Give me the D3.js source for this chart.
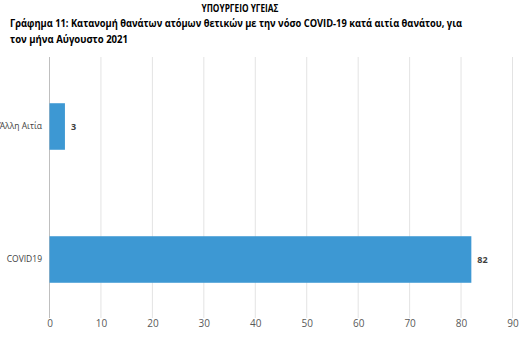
<!DOCTYPE html>
<html>
<head>
<meta charset="utf-8">
<script src="https://cdn.jsdelivr.net/npm/d3@7"></script>
<style>
  body { margin: 0; background: #fff; }
  svg { display: block; font-family: "Open Sans", "Noto Sans", sans-serif; }
</style>
</head>
<body>
<div id="app"></div>
<script>
const categories = ["Άλλη Αιτία", "COVID19"];
const values = [3, 82];
const ticks = [0, 10, 20, 30, 40, 50, 60, 70, 80, 90];

const width = 532;
const height = 356;

const svg = d3
  .create("svg")
  .attr("width", width)
  .attr("height", height)
  .attr("viewBox", [0, 0, width, height]);

// titles
svg
  .append("text")
  .attr("x", 240)
  .attr("y", 12)
  .attr("text-anchor", "middle")
  .attr("font-size", 10)
  .attr("font-weight", "bold")
  .attr("fill", "#000")
  .attr("textLength", 77)
  .attr("lengthAdjust", "spacingAndGlyphs")
  .text("ΥΠΟΥΡΓΕΙΟ ΥΓΕΙΑΣ");

svg
  .append("text")
  .attr("x", 10)
  .attr("y", 27)
  .attr("font-size", 11)
  .attr("font-weight", "bold")
  .attr("fill", "#000")
  .attr("textLength", 452)
  .attr("lengthAdjust", "spacingAndGlyphs")
  .text("Γράφημα 11: Κατανομή θανάτων ατόμων θετικών με την νόσο COVID-19 κατά αιτία θανάτου, για");

svg
  .append("text")
  .attr("x", 10)
  .attr("y", 43)
  .attr("font-size", 11)
  .attr("font-weight", "bold")
  .attr("fill", "#000")
  .attr("textLength", 118)
  .attr("lengthAdjust", "spacingAndGlyphs")
  .text("τον μήνα Αύγουστο 2021");

const x = d3.scaleLinear().domain([0, 90]).range([49.5, 512.5]);
const y = d3
  .scaleBand()
  .domain(categories)
  .range([60, 326])
  .paddingInner(0.65)
  .paddingOuter(0.325);

// gridlines
svg
  .append("g")
  .selectAll("line")
  .data(ticks)
  .join("line")
  .attr("x1", (d) => x(d))
  .attr("x2", (d) => x(d))
  .attr("y1", 57)
  .attr("y2", 318)
  .attr("stroke", (d) => (d === 0 ? "#bfbfbf" : "#e3e3e3"))
  .attr("stroke-width", 1);

// x axis labels
const xAxis = d3.axisBottom(x).tickValues(ticks).tickSize(0).tickPadding(0);
const gx = svg.append("g").attr("transform", "translate(0,320)").call(xAxis);
gx.select(".domain").remove();
gx.selectAll("text")
  .attr("font-size", 10)
  .attr("fill", "#595959")
  .attr("font-family", "\"Open Sans\", sans-serif")
  .attr("dy", "0.71em");

// y axis labels
const yAxis = d3.axisLeft(y).tickSize(0).tickPadding(0);
const gy = svg.append("g").attr("transform", "translate(42,0)").call(yAxis);
gy.select(".domain").remove();
gy.selectAll("text")
  .attr("font-size", 8.5)
  .attr("fill", "#404040")
  .attr("font-family", "\"Open Sans\", sans-serif");

// bars
svg
  .append("g")
  .selectAll("rect")
  .data(values)
  .join("rect")
  .attr("x", x(0))
  .attr("y", (d, i) => y(categories[i]))
  .attr("width", (d) => x(d) - x(0))
  .attr("height", y.bandwidth())
  .attr("fill", "#3d98d3");

// value labels
svg
  .append("g")
  .selectAll("text")
  .data(values)
  .join("text")
  .attr("x", (d) => x(d) + 6)
  .attr("y", (d, i) => y(categories[i]) + y.bandwidth() / 2)
  .attr("dy", "0.35em")
  .attr("font-size", 9)
  .attr("font-weight", "bold")
  .attr("fill", "#404040")
  .text((d) => d);

document.getElementById("app").append(svg.node());
</script>
</body>
</html>
